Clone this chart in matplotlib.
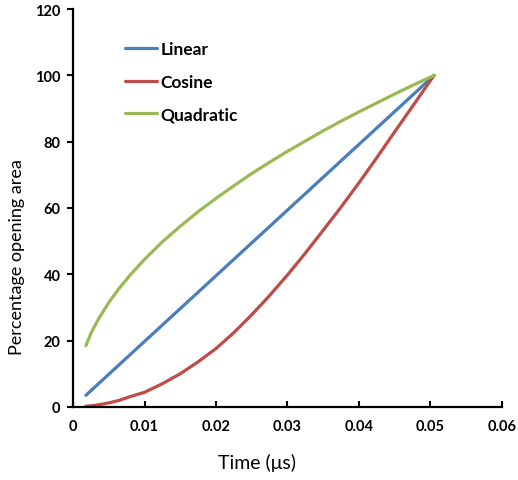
import numpy as np
import matplotlib.pyplot as plt

# values
time_lin = [0.0018, 0.0505]
linear = [3.5, 100]

time_curve = [0.0018, 0.0025, 0.0035, 0.005, 0.0065, 0.008, 0.01, 0.0125,
              0.015, 0.0175, 0.02, 0.0225, 0.025, 0.0275, 0.03, 0.0325,
              0.035, 0.0375, 0.04, 0.0425, 0.045, 0.0475, 0.0505]
cosine = [0.2, 0.3, 0.6, 1.2, 2.0, 3.1, 4.4, 7.0,
          10.0, 13.6, 17.6, 22.4, 27.8, 33.6, 39.8, 46.4,
          53.3, 60.3, 67.6, 75.2, 83.0, 90.7, 100]
quadratic = [18.5, 22.2, 26.3, 31.5, 35.9, 39.8, 44.5, 49.8,
             54.5, 58.9, 62.9, 66.7, 70.4, 73.8, 77.1, 80.2,
             83.3, 86.2, 89.0, 91.7, 94.4, 97.0, 100]

x_ticks = [0, 0.01, 0.02, 0.03, 0.04, 0.05, 0.06]
x_labels = ['0', '0.01', '0.02', '0.03', '0.04', '0.05', '0.06']
y_ticks = [0, 20, 40, 60, 80, 100, 120]

plt.rcParams['font.family'] = ['Lato', 'DejaVu Sans']

fig = plt.figure(figsize=(5.18, 4.81), dpi=100)
ax = fig.add_axes([0.141, 0.152, 0.828, 0.827])

ax.plot(time_lin, linear, color='#4A7EBB', lw=2.3, label='Linear', solid_capstyle='round')
ax.plot(time_curve, cosine, color='#BE4B48', lw=2.3, label='Cosine',
        solid_capstyle='round', solid_joinstyle='round')
ax.plot(time_curve, quadratic, color='#98B954', lw=2.3, label='Quadratic',
        solid_capstyle='round', solid_joinstyle='round')

ax.set_xlim(0, 0.06)
ax.set_ylim(0, 120)
ax.set_xticks(x_ticks)
ax.set_xticklabels(x_labels)
ax.set_yticks(y_ticks)

for s in ['top', 'right']:
    ax.spines[s].set_visible(False)
for s in ['left', 'bottom']:
    ax.spines[s].set_linewidth(1.6)
    ax.spines[s].set_color('black')

ax.tick_params(axis='x', direction='in', length=4, width=1.5, pad=9, labelsize=10.5)
ax.tick_params(axis='y', direction='out', length=4, width=1.5, pad=5, labelsize=10.5)
for lab in ax.get_xticklabels() + ax.get_yticklabels():
    lab.set_fontweight('bold')

ax.set_xlabel('Time (μs)', fontsize=14)
ax.set_ylabel('Percentage opening area', fontsize=13)
ax.xaxis.set_label_coords(0.43, -0.115)
ax.yaxis.set_label_coords(-0.112, 0.38)

leg = ax.legend(loc='upper left', bbox_to_anchor=(0.085, 0.958), frameon=False,
                handlelength=1.85, handletextpad=0.2, labelspacing=0.95,
                prop={'size': 12.5, 'weight': 'bold'})

fig.savefig('out.png', dpi=100)
